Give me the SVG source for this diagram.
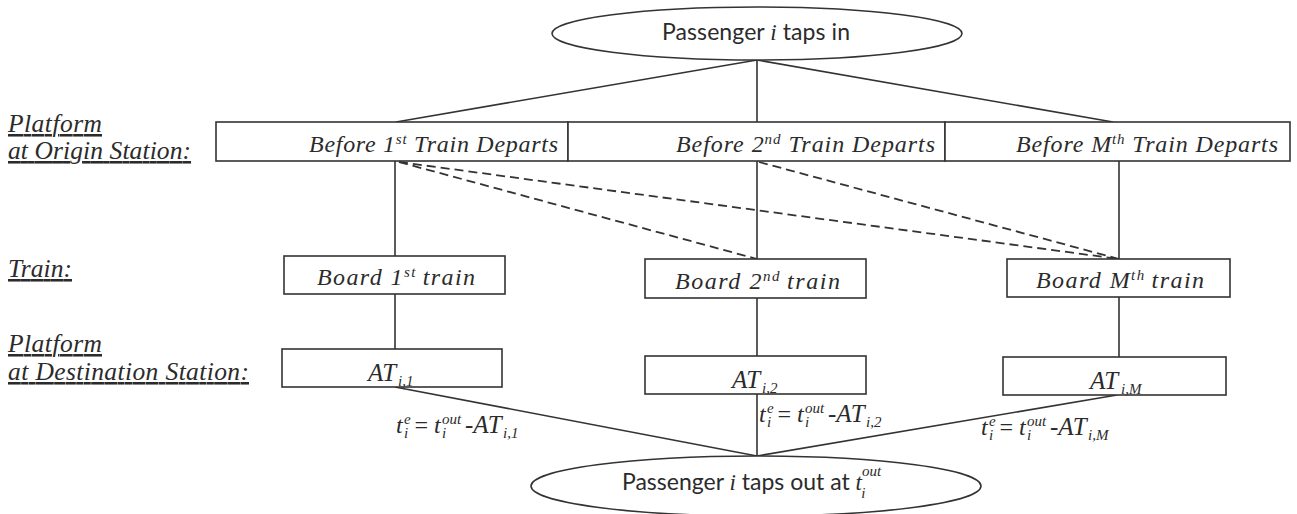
<svg xmlns="http://www.w3.org/2000/svg" width="1297" height="514" viewBox="0 0 1297 514">
  <style>
    .ln{stroke:#333;stroke-width:1.6;fill:none}
    .dash{stroke:#333;stroke-width:1.8;stroke-dasharray:9 5;fill:none}
    .box{fill:#fff;stroke:#333;stroke-width:1.6}
    .oval{fill:#fff;stroke:#333;stroke-width:1.6}
    .sans{font-family:Lato,"Liberation Sans",sans-serif;font-size:23px;fill:#2b2b2b}
    .ser{font-family:"Liberation Serif",serif;font-style:italic;font-size:24px;fill:#2b2b2b}
    .lab{font-family:"Liberation Serif",serif;font-style:italic;font-size:25.5px;fill:#2b2b2b;text-decoration:underline}
    .it{font-family:"Liberation Serif",serif;font-style:italic}
    .sm{font-size:15px}
    .f{font-size:25px}
  </style>

  <!-- row labels -->
  <g id="labels">
    <text class="lab" x="8" y="132" textLength="94">Platform</text>
    <text class="lab" x="8" y="159" textLength="183">at Origin Station:</text>
    <text class="lab" x="8" y="277" textLength="64">Train:</text>
    <text class="lab" x="8" y="352" textLength="94">Platform</text>
    <text class="lab" x="8" y="380" textLength="241">at Destination Station:</text>
  </g>

  <!-- connectors -->
  <g id="connectors">
    <line class="ln" x1="757" y1="60" x2="396" y2="122"/>
    <line class="ln" x1="757" y1="60" x2="757" y2="122"/>
    <line class="ln" x1="757" y1="60" x2="1113" y2="122"/>

    <line class="ln" x1="395" y1="161" x2="395" y2="256"/>
    <line class="ln" x1="395" y1="294" x2="395" y2="349"/>
    <line class="ln" x1="757" y1="161" x2="757" y2="259"/>
    <line class="ln" x1="757" y1="298" x2="757" y2="356"/>
    <line class="ln" x1="1119" y1="161" x2="1119" y2="259"/>
    <line class="ln" x1="1119" y1="297" x2="1119" y2="357"/>

    <line class="dash" x1="399" y1="162" x2="757" y2="259"/>
    <line class="dash" x1="399" y1="162" x2="1119" y2="259"/>
    <line class="dash" x1="759" y1="162" x2="1119" y2="259"/>

    <line class="ln" x1="395" y1="387" x2="757" y2="456"/>
    <line class="ln" x1="757" y1="394" x2="757" y2="456"/>
    <line class="ln" x1="1117" y1="395" x2="757" y2="456"/>
  </g>

  <!-- start -->
  <g id="tap-in">
    <ellipse class="oval" cx="757" cy="33.5" rx="205" ry="26.5"/>
    <text class="sans" x="662" y="40" textLength="188">Passenger <tspan class="it">i</tspan> taps in</text>
  </g>

  <!-- platform at origin -->
  <g id="before-1">
    <rect class="box" x="216" y="122" width="352" height="39"/>
    <text class="ser" x="309" y="152" textLength="249">Before 1<tspan class="sm" dy="-8">st</tspan><tspan dy="8"> Train Departs</tspan></text>
  </g>
  <g id="before-2">
    <rect class="box" x="568" y="122" width="377" height="39"/>
    <text class="ser" x="676" y="152" textLength="259">Before 2<tspan class="sm" dy="-8">nd</tspan><tspan dy="8"> Train Departs</tspan></text>
  </g>
  <g id="before-m">
    <rect class="box" x="945" y="122" width="345" height="39"/>
    <text class="ser" x="1016" y="152" textLength="262">Before M<tspan class="sm" dy="-8">th</tspan><tspan dy="8"> Train Departs</tspan></text>
  </g>

  <!-- trains -->
  <g id="board-1">
    <rect class="box" x="284" y="256" width="221" height="38"/>
    <text class="ser" x="317" y="285" textLength="158">Board 1<tspan class="sm" dy="-8">st</tspan><tspan dy="8" dx="6">train</tspan></text>
  </g>
  <g id="board-2">
    <rect class="box" x="645" y="259" width="221" height="39"/>
    <text class="ser" x="675" y="289" textLength="165">Board 2<tspan class="sm" dy="-8">nd</tspan><tspan dy="8" dx="6">train</tspan></text>
  </g>
  <g id="board-m">
    <rect class="box" x="1007" y="259" width="223" height="38"/>
    <text class="ser" x="1036" y="288" textLength="168">Board M<tspan class="sm" dy="-8">th</tspan><tspan dy="8" dx="6">train</tspan></text>
  </g>

  <!-- arrival times -->
  <g id="at-1">
    <rect class="box" x="282" y="349" width="220" height="38"/>
    <text class="ser f" x="368" y="381">AT<tspan class="sm" x="398" y="386">i,1</tspan></text>
  </g>
  <g id="at-2">
    <rect class="box" x="645" y="356" width="221" height="38"/>
    <text class="ser f" x="732" y="388">AT<tspan class="sm" x="762" y="393">i,2</tspan></text>
  </g>
  <g id="at-m">
    <rect class="box" x="1003" y="357" width="223" height="38"/>
    <text class="ser f" x="1090" y="389">AT<tspan class="sm" x="1121" y="394">i,M</tspan></text>
  </g>

  <!-- waiting-time labels: t_i^e = t_i^out - AT -->
  <g id="wait-labels" class="ser">
    <text x="396" y="433">t<tspan class="sm" x="404" y="424">e</tspan><tspan class="sm" x="404" y="438">i</tspan><tspan x="413" y="433">=</tspan><tspan x="434" y="433">t</tspan><tspan class="sm" x="442" y="424">out</tspan><tspan class="sm" x="442" y="438">i</tspan><tspan class="f" x="465" y="433">-AT</tspan><tspan class="sm" x="503" y="438">i,1</tspan></text>
    <text x="759" y="422">t<tspan class="sm" x="767" y="413">e</tspan><tspan class="sm" x="767" y="427">i</tspan><tspan x="776" y="422">=</tspan><tspan x="797" y="422">t</tspan><tspan class="sm" x="805" y="413">out</tspan><tspan class="sm" x="805" y="427">i</tspan><tspan class="f" x="828" y="422">-AT</tspan><tspan class="sm" x="866" y="427">i,2</tspan></text>
    <text x="981" y="435">t<tspan class="sm" x="989" y="426">e</tspan><tspan class="sm" x="989" y="440">i</tspan><tspan x="998" y="435">=</tspan><tspan x="1019" y="435">t</tspan><tspan class="sm" x="1027" y="426">out</tspan><tspan class="sm" x="1027" y="440">i</tspan><tspan class="f" x="1050" y="435">-AT</tspan><tspan class="sm" x="1088" y="440">i,M</tspan></text>
  </g>

  <!-- end -->
  <g id="tap-out">
    <ellipse class="oval" cx="756" cy="486" rx="225" ry="30"/>
    <text class="sans" x="622" y="490">Passenger <tspan class="it">i</tspan> taps out at <tspan class="it">t</tspan><tspan class="it sm" dy="-14">out</tspan><tspan class="it sm" dx="-20" dy="22">i</tspan></text>
  </g>
</svg>
